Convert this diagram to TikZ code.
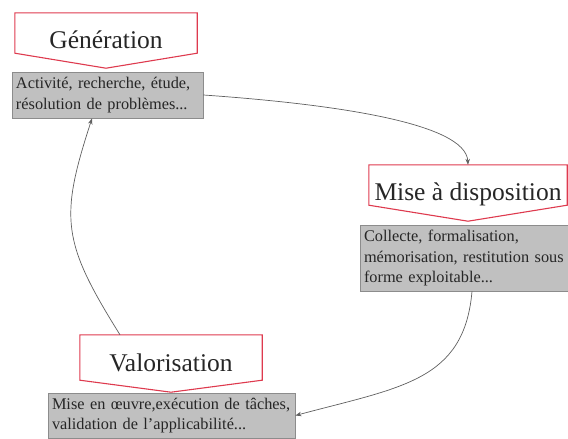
\documentclass[tikz,border=0pt]{standalone}
\usepackage{fontspec}
\setmainfont{Liberation Serif}
\usetikzlibrary{calc,arrows.meta}

\definecolor{tagred}{RGB}{222,58,78}
\definecolor{boxfill}{RGB}{192,192,192}
\definecolor{boxline}{RGB}{140,140,140}
\definecolor{linkgray}{RGB}{95,95,95}

\tikzset{
  title/.style={inner sep=0pt, minimum height=#1, text height=17pt, text depth=2pt,
    font=\fontsize{25.5}{28}\selectfont, text=black!85},
  tag/.style={draw=tagred, line width=1.1pt, line join=miter},
  infobox/.style={draw=boxline, line width=0.8pt, fill=boxfill, inner xsep=4pt, inner ysep=0pt,
    align=left, font=\fontsize{16.3}{20.5}\selectfont, text=black!85},
  link/.style={draw=linkgray, line width=0.7pt, -{Stealth[length=6pt,width=4.5pt]}}
}

\begin{document}
\begin{tikzpicture}[x=1pt,y=1pt]
  \useasboundingbox (0,0) rectangle (568,-439);

  % Title tags (pentagons pointing down)
  \node[title=55pt, minimum width=182pt] (gen) at (106,-40.5) {Génération};
  \draw[tag] (gen.north west) -- (gen.north east) -- ($(gen.south east)+(0,15)$)
    -- (gen.south) -- ($(gen.south west)+(0,15)$) -- cycle;

  \node[title=56pt, minimum width=198pt] (mise) at (468,-193) {Mise à disposition};
  \draw[tag] (mise.north west) -- (mise.north east) -- ($(mise.south east)+(0,16)$)
    -- (mise.south) -- ($(mise.south west)+(0,16)$) -- cycle;

  \node[title=57pt, minimum width=182pt] (val) at (171,-363.5) {Valorisation};
  \draw[tag] (val.north west) -- (val.north east) -- ($(val.south east)+(0,12)$)
    -- (val.south) -- ($(val.south west)+(0,12)$) -- cycle;

  % Description boxes
  \node[infobox, text width=183pt, minimum height=46pt] (genbox) at (107.5,-95)
    {Activité, recherche, étude,\\résolution de problèmes...};
  \node[infobox, text width=200pt, minimum height=66pt] (misebox) at (464,-258)
    {Collecte, formalisation,\\mémorisation, restitution sous\\forme exploitable...};
  \node[infobox, text width=239pt, minimum height=45pt] (valbox) at (171.5,-415.5)
    {Mise en œuvre,exécution de tâches,\\validation de l'applicabilité...};

  % Cycle connectors
  \draw[link] (genbox.east) to[out=-4, in=93, out distance=130pt, in distance=42pt] (mise.north);
  \draw[link] ([xshift=8pt]misebox.south) to[out=-95, in=15, out distance=90pt, in distance=110pt] (valbox.east);
  \draw[link] ([xshift=-51pt]val.north) to[out=122, in=-108, out distance=110pt, in distance=105pt] ([xshift=-15.5pt]genbox.south);
\end{tikzpicture}
\end{document}
